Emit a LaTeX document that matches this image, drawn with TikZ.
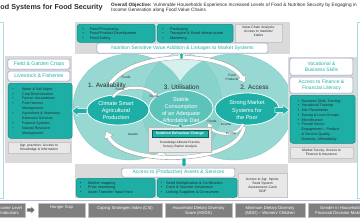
\documentclass[tikz,border=0pt]{standalone}
\usepackage{fontspec}
\setmainfont{Liberation Sans}
\usetikzlibrary{arrows.meta,shapes.geometric}
\definecolor{tealbox}{HTML}{1DAFA6}
\definecolor{tealdark}{HTML}{118A83}
\definecolor{lteal}{HTML}{97D8D2}
\definecolor{mteal}{HTML}{5FC4BB}
\definecolor{eline}{HTML}{7CCBC4}
\definecolor{innerU}{HTML}{5BC3BA}
\definecolor{panelgrey}{HTML}{DADADA}
\definecolor{boxgrey}{HTML}{E8E8E8}
\definecolor{bluegrey}{HTML}{8E9CC8}
\definecolor{titleteal}{HTML}{22AFA6}
\definecolor{kpigrey}{HTML}{7F7F7F}
\definecolor{framecyan}{HTML}{A6DEDE}
\definecolor{txtdark}{HTML}{2A2A2A}
\definecolor{sepline}{HTML}{B3BBDC}
\newcommand{\mybl}[2]{\begin{tabular}{@{}l@{\hspace{#1}}l@{}}#2\end{tabular}}
% x y angle length halfshaft halfhead headlen style
\newcommand{\myarrow}[8]{\begin{scope}[shift={(#1,#2)},rotate=#3]
\filldraw[#8] (0,-#5) -- ({#4-#7},-#5) -- ({#4-#7},-#6) -- (#4,0) -- ({#4-#7},#6) -- ({#4-#7},#5) -- (0,#5) -- cycle;\end{scope}}
\begin{document}
\begin{tikzpicture}[x=1pt,y=-1pt,
  tealrect/.style={draw=tealdark, fill=tealbox, rounded corners=2.5pt, line width=0.5pt, anchor=north west, inner sep=0},
  whitebox/.style={draw=bluegrey, fill=white, rounded corners=1.5pt, line width=0.5pt, text=titleteal, font=\fontsize{5}{6}\selectfont, align=center, inner sep=0},
  greybox/.style={draw=gray!45, fill=boxgrey, line width=0.4pt, text=txtdark, font=\fontsize{3.3}{4}\selectfont, align=center, inner sep=0},
  kpibox/.style={draw=gray!50, fill=kpigrey, line width=0.4pt, anchor=north west, inner sep=0},
  kpitext/.style={text=white, font=\fontsize{4.2}{5}\selectfont, align=center, inner sep=0, anchor=north},
  blist/.style={anchor=north west, inner sep=0, text=txtdark},
  elltext/.style={text=white, align=center, inner sep=0, font=\fontsize{5.6}{7.4}\selectfont},
  heading/.style={text=txtdark, inner sep=0, font=\fontsize{6.4}{7.5}\selectfont},
  small/.style={text=txtdark, inner sep=0, font=\fontsize{3.2}{3.8}\selectfont, align=center},
  tarrow/.style={fill=tealbox, draw=white, line width=0.5pt},
  arcout/.style={draw=gray!70, line width=4.4pt, -{Triangle[length=7pt,width=10pt,line width=0pt]}},
  arcin/.style={draw=white, line width=3.4pt, shorten >=0.8pt, -{Triangle[length=5.6pt,width=8.4pt,line width=0pt]}},
  iarcout/.style={draw=gray!70, line width=3pt, -{Triangle[length=5pt,width=7pt,line width=0pt]}},
  iarcin/.style={draw=white, line width=2.2pt, shorten >=0.6pt, -{Triangle[length=4pt,width=5.8pt,line width=0pt]}}
]
\useasboundingbox (0,0) rectangle (360,220);
\clip (0,0) rectangle (360,220);
\fill[white] (0,0) rectangle (360,220);

% title and objective
\node[anchor=west, inner sep=0, text=txtdark, font=\bfseries\fontsize{7.2}{8}\selectfont] (title) at (0.3,7.5) {od Systems for Food Security};
\node[anchor=north west, inner sep=0, align=left, text=txtdark, font=\fontsize{4.75}{5.2}\selectfont] (obj) at (111,2.6)
 {\textbf{Overall Objective:} Vulnerable Households Experience Increased Levels of Food \& Nutrition Security by Engaging in\\Income Generation along Food Value Chains};

% outer frames
\draw[framecyan, line width=0.6pt] (-5,22) rectangle (3,198);
\draw[framecyan, line width=0.6pt] (357,22) rectangle (365,198);

% big ellipses
\fill[lteal] (130,107) ellipse [x radius=57pt, y radius=53pt];
\fill[lteal] (233,107) ellipse [x radius=60pt, y radius=53pt];
\fill[mteal, opacity=0.25] (182,106) ellipse [x radius=40pt, y radius=53pt];
\draw[eline, line width=0.4pt] (130,107) ellipse [x radius=57pt, y radius=53pt];
\draw[eline, line width=0.4pt] (233,107) ellipse [x radius=60pt, y radius=53pt];
\draw[eline, line width=0.4pt] (182,106) ellipse [x radius=40pt, y radius=53pt];

% panels
\fill[panelgrey] (75,22) rectangle (290,54);
\fill[panelgrey] (5,56) rectangle (72,163);
\fill[panelgrey] (288,57) rectangle (357,163);
\fill[panelgrey] (75,164) rectangle (288,198);

% top panel content
\node[tealrect, minimum width=78pt, minimum height=18pt] (tb1) at (77,24) {};
\node[blist, font=\fontsize{3.8}{4.5}\selectfont] (tb1t) at (82.3,26.9) {\mybl{6.2pt}{\textbullet & Food Processing\\ \textbullet & Food Product Development\\ \textbullet & Food Safety\\}};
\node[tealrect, minimum width=76pt, minimum height=18pt] (tb2) at (157,24) {};
\node[blist, font=\fontsize{3.8}{4.5}\selectfont] (tb2t) at (162.3,26.9) {\mybl{6.2pt}{\textbullet & Packaging\\ \textbullet & Transport \& Road Infrastructure\\ \textbullet & Marketing\\}};
\node[greybox, minimum width=47pt, minimum height=18pt] (vca) at (258.5,33) {};
\node[small, font=\fontsize{3.4}{4}\selectfont] (vcat) at (258.5,31.3) {Value Chain Analysis:\\Access to markets/\\trades};
\node[whitebox, minimum width=171pt, minimum height=10pt] (nsva) at (182.5,48) {Nutrition Sensitive Value Addition \& Linkages to Market Systems};

% left panel content
\node[whitebox, minimum width=62pt, minimum height=10pt, font=\fontsize{5.2}{6}\selectfont] (field) at (39,64) {Field \& Garden Crops};
\node[whitebox, minimum width=62pt, minimum height=10pt, font=\fontsize{5.2}{6}\selectfont] (live) at (39,76) {Livestock \& Fisheries};
\node[tealrect, minimum width=64pt, minimum height=55pt] (lteal) at (8,83) {};
\node[blist, font=\fontsize{3.6}{4.9}\selectfont] (ltealt) at (12.2,86.5) {\mybl{8.5pt}{\textbullet & Water \& Soil Mgmt.\\ \textbullet & Crop Diversification\\ \textbullet & Farmer Associations\\ \textbullet & Post Harvest\\ & Management\\ \textbullet & Agriculture \& Veterinary\\ & Extension Services\\ \textbullet & Pastoral Systems\\ \textbullet & Natural Resource\\ & Management\\}};
\node[greybox, minimum width=62pt, minimum height=11pt, font=\fontsize{3.4}{4.1}\selectfont] (agr) at (39,147.5) {Agr. practices: Access to\\Knowledge \& Information};

% right panel content
\node[whitebox, minimum width=63pt, minimum height=17pt, font=\fontsize{5}{6.2}\selectfont] (voc) at (321.5,66.5) {Vocational \&\\Business Skills};
\node[whitebox, minimum width=63pt, minimum height=16pt, font=\fontsize{5}{6.2}\selectfont] (fin) at (321.5,85) {Access to Finance \&\\Financial Literacy};
\node[tealrect, minimum width=65pt, minimum height=48pt] (rteal) at (290,95) {};
\node[blist, font=\fontsize{3.7}{4.75}\selectfont] (rtealt) at (297.7,98.6) {\mybl{2.4pt}{\textbullet & Business Skills Training\\ \textbullet & Vocational Training\\ \textbullet & Job Placements\\ \textbullet & Saving \& Loan Groups\\ \textbullet & Microfinance\\ \textbullet & Private Sector\\ & Engagement -- Product\\ & \& Service Quality,\\ & Diversity, Affordability\\}};
\node[greybox, minimum width=63pt, minimum height=11pt, font=\fontsize{3.4}{4.1}\selectfont] (msurvey) at (321.5,152.5) {Market Survey; Access to\\Finance \& Insurance};

% bottom panel content
\node[whitebox, minimum width=113pt, minimum height=9pt] (aps) at (178.5,172.5) {Access to (Productive) Assets \& Services};
\node[tealrect, minimum width=79pt, minimum height=19pt] (bb1) at (76,178) {};
\node[blist, font=\fontsize{3.8}{4.5}\selectfont] (bb1t) at (79.6,180.9) {\mybl{7pt}{\textbullet & Market mapping\\ \textbullet & Price monitoring\\ \textbullet & Asset Transfer/ Input Fairs\\}};
\node[tealrect, minimum width=80pt, minimum height=19pt] (bb2) at (157,178) {};
\node[blist, font=\fontsize{3.8}{4.5}\selectfont] (bb2t) at (160.6,180.9) {\mybl{4pt}{\textbullet & Seed Multiplication \& Certification\\ \textbullet & Cash \& Voucher Assistance\\ \textbullet & Linking Suppliers \& Consumers\\}};
\node[greybox, minimum width=49pt, minimum height=24pt, font=\fontsize{3.4}{4.1}\selectfont] (inputs) at (262.5,185) {Access to Agr. Inputs;\\Seed System\\Assessment; Cash\\SOP};

% outer cycle arrows
\coordinate (a1) at (110,84); \coordinate (a2) at (245,83);
\coordinate (b1) at (244,127); \coordinate (b2) at (106,131);
\draw[arcout] (a1) .. controls (133,50) and (226,50) .. (a2);
\draw[arcin] (a1) .. controls (133,50) and (226,50) .. (a2);
\draw[arcout] (b1) .. controls (238,166) and (122,166) .. (b2);
\draw[arcin] (b1) .. controls (238,166) and (122,166) .. (b2);

% inner ellipses
\node[draw=white, line width=0.8pt, fill=tealbox, ellipse, minimum width=62pt, minimum height=30pt, inner sep=0] (avail) at (118,110) {};
\node[draw=white, line width=0.8pt, fill=innerU, ellipse, minimum width=64pt, minimum height=36pt, inner sep=0] (util) at (181,108) {};
\node[draw=white, line width=0.8pt, fill=tealbox, ellipse, minimum width=64pt, minimum height=32pt, inner sep=0] (market) at (247,109) {};
\node[elltext] (availt) at (116,110.5) {Climate Smart\\Agricultural\\Production};
\node[elltext, font=\fontsize{5.6}{7}\selectfont] (utilt) at (181,109.5) {Stable\\Consumption\\of an Adequate\\Affordable Diet};
\node[elltext] (markett) at (247,110) {Strong Market\\Systems for\\the Poor};

% inner arrows
\coordinate (c1) at (113,97); \coordinate (c2) at (157,98);
\coordinate (d1) at (243,124); \coordinate (d2) at (208,123);
\draw[iarcout] (c1) .. controls (122,84) and (148,86) .. (c2);
\draw[iarcin] (c1) .. controls (122,84) and (148,86) .. (c2);
\draw[iarcout] (d1) .. controls (238,138) and (214,135) .. (d2);
\draw[iarcin] (d1) .. controls (238,138) and (214,135) .. (d2);

% headings
\node[heading] (h1) at (107,86) {1. Availability};
\node[heading] (h3) at (181.5,87) {3. Utilisation};
\node[heading] (h2) at (254.5,87) {2. Access};

% labels
\node[small] (l1) at (126,77.5) {Foods};
\node[small] (l2) at (232,77.5) {Food\\Products};
\node[small] (l3) at (120,89) {Foods};
\node[small] (l4) at (154,96.5) {Foods};
\node[small] (l5) at (212,121) {Foods};
\node[small] (l6) at (226,124) {Income};
\node[small] (l7) at (133,134) {Assets};
\node[small] (l8) at (231,133.5) {Income};

% block arrows
\myarrow{87}{111}{180}{15}{2.4}{5}{6}{tarrow}
\myarrow{275}{110}{0}{14}{2.4}{5}{6}{tarrow}
\myarrow{180.5}{124}{270}{8}{1.7}{3.5}{4}{tarrow}
\myarrow{181.5}{59}{90}{6.5}{1.3}{2.8}{3}{tarrow}
\myarrow{184}{158}{270}{9.5}{1.8}{3.6}{4}{tarrow}

% nutrition behaviour change
\node[draw=gray!55, fill=boxgrey, line width=0.4pt, minimum width=63pt, minimum height=25pt, inner sep=0] (nbc) at (179.5,139.5) {};
\node[draw=tealdark!70!black, fill=tealbox, line width=0.6pt, minimum width=56pt, minimum height=7pt, inner sep=0, text=white, font=\bfseries\fontsize{3.6}{4.2}\selectfont] (nbcbar) at (180,133.5) {Nutrition Behaviour Change};
\node[small, font=\fontsize{3.2}{4}\selectfont] (nbct) at (180,144.5) {Knowledge Attitude Practice\\Survey; Barrier Analysis};

% separator and indicators
\draw[sepline, line width=0.8pt] (0,200) -- (360,200);
\node[kpibox, minimum width=31pt, minimum height=14pt] (k0) at (-6,203) {};
\node[kpitext] (k0t) at (9.5,205.8) {Income Level\\Indicators};
\myarrow{27}{210}{0}{8}{1.8}{3.6}{4}{fill=kpigrey!85!black, draw=white, line width=0.3pt}
\node[kpibox, minimum width=47pt, minimum height=14pt] (k1) at (38,203) {};
\node[kpitext] (k1t) at (61.5,205.8) {Hunger Gap};
\node[kpibox, minimum width=74pt, minimum height=14pt] (k2) at (88,203) {};
\node[kpitext] (k2t) at (125,205.8) {Coping Strategies Index (CSI)};
\node[kpibox, minimum width=67pt, minimum height=14pt] (k3) at (165,203) {};
\node[kpitext] (k3t) at (198.5,205.8) {Household Dietary Diversity\\Score (HDDS)};
\node[kpibox, minimum width=70pt, minimum height=14pt] (k4) at (235,203) {};
\node[kpitext] (k4t) at (270,205.8) {Minimum Dietary Diversity\\(MDD) -- Women/ Children};
\node[kpibox, minimum width=64pt, minimum height=14pt] (k5) at (308,203) {};
\node[kpitext] (k5t) at (340,205.8) {Gender in Household\\Financial Decision-Making};
\end{tikzpicture}
\end{document}
